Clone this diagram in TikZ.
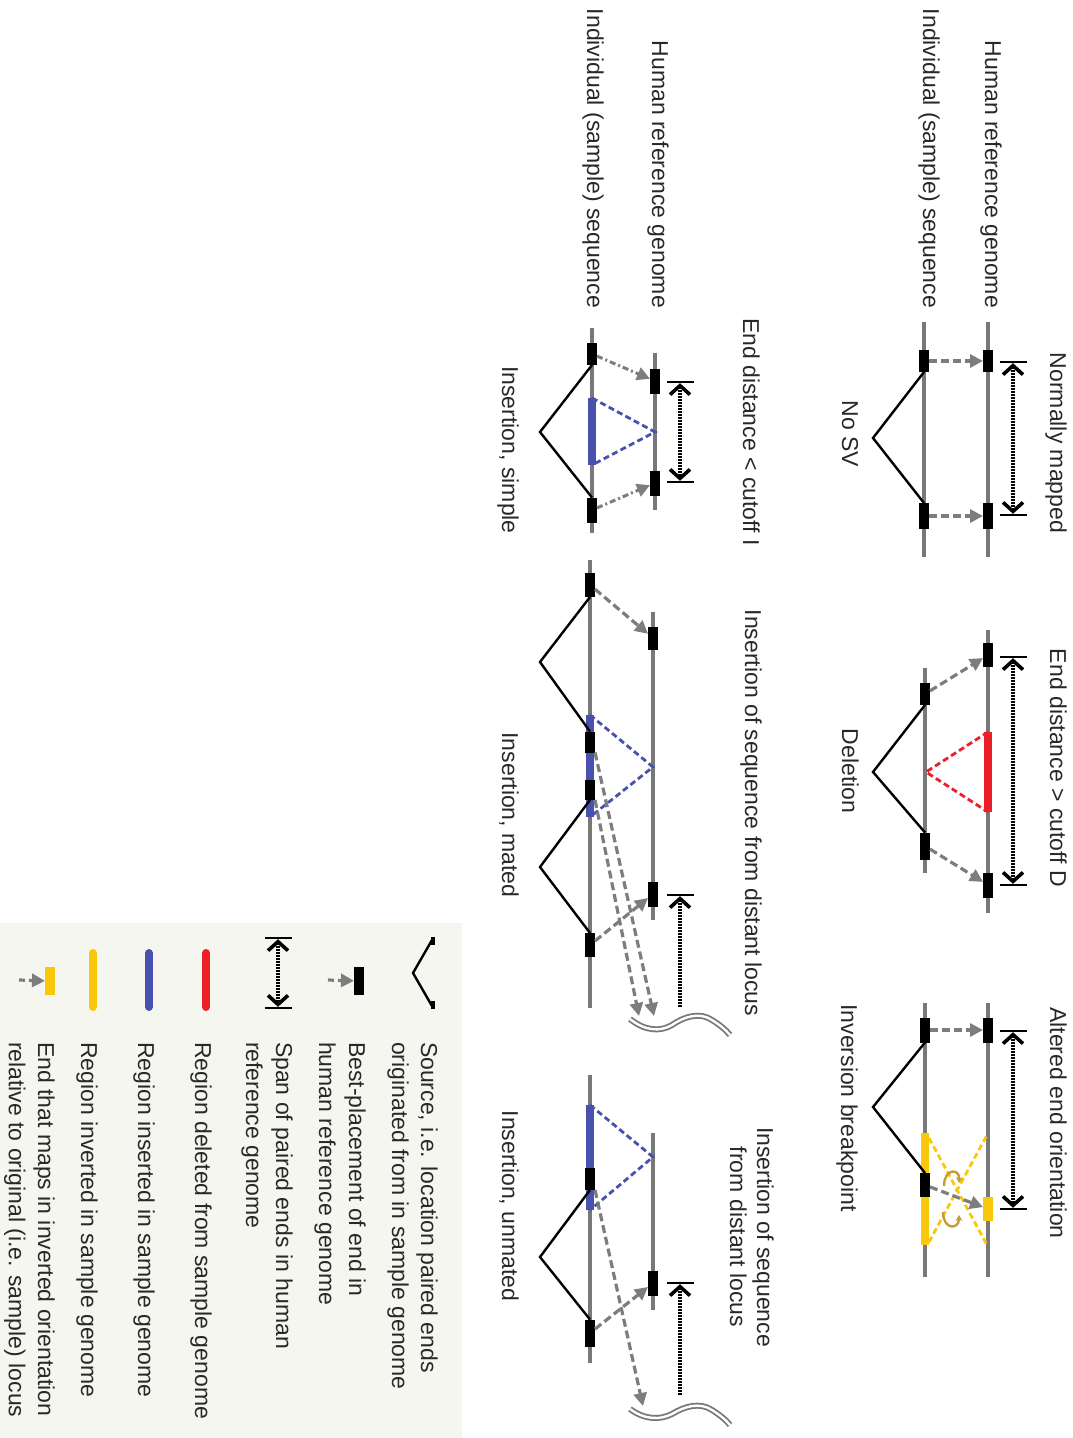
\documentclass[tikz,border=0pt]{standalone}
\usepackage{fontspec}
\setmainfont{Liberation Sans}
\usetikzlibrary{arrows.meta}
\definecolor{seqgray}{RGB}{120,120,120}
\definecolor{argray}{RGB}{125,125,125}
\definecolor{txtgray}{RGB}{40,40,40}
\definecolor{delred}{RGB}{236,30,40}
\definecolor{insblue}{RGB}{72,82,172}
\definecolor{invyellow}{RGB}{250,200,10}
\definecolor{curlgold}{RGB}{196,158,52}
\definecolor{legbg}{RGB}{246,246,240}
\begin{document}
\begin{tikzpicture}[x=1pt,y=-1pt,
  every node/.style={inner sep=0pt,outer sep=0pt},
  lbl/.style={rotate=-90,font=\fontsize{23}{28}\selectfont,text=txtgray},
  seq/.style={draw=seqgray,line width=3.2pt},
  blk/.style={rectangle,fill=black,minimum width=10pt},
  yblk/.style={rectangle,fill=invyellow,minimum width=10pt},
  pe/.style={draw=argray,line width=3.2pt,dash pattern=on 8pt off 4pt,-{Triangle[length=13pt,width=13pt]}},
  pedot/.style={draw=argray,line width=3pt,dash pattern=on 6pt off 3pt on 2pt off 3pt,-{Triangle[length=13pt,width=13pt]}},
  src/.style={draw=black,line width=2.4pt,line join=miter},
  region/.style={line width=8pt},
  tri/.style={line width=2.8pt,dash pattern=on 6pt off 3.5pt},
  spanbar/.style={rectangle,fill=black,minimum width=27pt,minimum height=2.4pt},
  barb/.style={Straight Barb[length=9pt,width=20pt,line width=3.6pt]},
  span/.style={draw=black,line width=4pt,dash pattern=on 1.8pt off 1.2pt,{Straight Barb[length=9pt,width=20pt,line width=3.6pt]}-{Straight Barb[length=9pt,width=20pt,line width=3.6pt]}},
  spanup/.style={draw=black,line width=4pt,dash pattern=on 1.8pt off 1.2pt,-{Straight Barb[length=9pt,width=20pt,line width=3.6pt]}},
  wave/.style={draw=seqgray,line width=1.8pt,double=white,double distance=2.4pt},
  curl/.style={draw=curlgold,line width=2.4pt,-{Stealth[length=6pt,width=7pt]}}
]
\useasboundingbox (0,0) rectangle (1072,1438);

% ---------- row labels ----------
\node[lbl,anchor=base east] (refA) at (985,308) {Human reference genome};
\node[lbl,anchor=base east] (smpA) at (923,308) {Individual (sample) sequence};
\node[lbl,anchor=base east] (refB) at (652,308) {Human reference genome};
\node[lbl,anchor=base east] (smpB) at (587,308) {Individual (sample) sequence};

% ================= Normally mapped =================
\draw[seq] (924,322) -- (924,557);
\draw[seq] (988,322) -- (988,557);
\node[blk,minimum height=22pt] (as1) at (924,361) {};
\node[blk,minimum height=22pt] (ar1) at (988,361) {};
\node[blk,minimum height=26pt] (as2) at (924,516) {};
\node[blk,minimum height=26pt] (ar2) at (988,516) {};
\draw[pe] (as1) -- (ar1);
\draw[pe] (as2) -- (ar2);
\draw[src] (as1.south) -- (873,438) -- (as2.north);
\node[spanbar] (at1) at (1013,362) {};
\node[spanbar] (at2) at (1013,515) {};
\draw[span] (at1) -- (at2);
\node[lbl,anchor=base] (tA) at (1050,443) {Normally mapped};
\node[lbl,anchor=base] (cA) at (842,434) {No SV};

% ================= Deletion =================
\draw[seq] (988,630) -- (988,913);
\draw[seq] (925,668) -- (925,873);
\draw[delred,region] (988,732) -- (988,812);
\draw[delred,tri] (988,732) -- (926,772) -- (988,812);
\node[blk,minimum height=24pt] (br1) at (988,655) {};
\node[blk,minimum height=25pt] (br2) at (988,885) {};
\node[blk,minimum height=22pt] (bs1) at (925,694) {};
\node[blk,minimum height=27pt] (bs2) at (925,846) {};
\draw[pe] (bs1) -- (br1);
\draw[pe] (bs2) -- (br2);
\draw[src] (bs1.south) -- (873,772) -- (bs2.north);
\node[spanbar] (bt1) at (1013,657) {};
\node[spanbar] (bt2) at (1013,885) {};
\draw[span] (bt1) -- (bt2);
\node[lbl,anchor=base] (tB) at (1050,768) {End distance > cutoff D};
\node[lbl,anchor=base] (cB) at (842,771) {Deletion};

% ================= Inversion =================
\draw[seq] (925,1003) -- (925,1277);
\draw[seq] (988,1003) -- (988,1277);
\draw[invyellow,region] (925,1133) -- (925,1245);
\draw[invyellow,tri] (929,1138) -- (987,1245);
\draw[invyellow,tri] (929,1242) -- (987,1135);
\node[blk,minimum height=25pt] (cs1) at (925,1030) {};
\node[blk,minimum height=25pt] (cr1) at (988,1030) {};
\node[blk,minimum height=24pt] (cs2) at (925,1185) {};
\node[yblk,minimum height=24pt] (cr2) at (988,1209) {};
\draw[pe] (cs1) -- (cr1);
\draw[pe] (cs2) -- (cr2);
\draw[curl] (944,1186) .. controls (944,1168) and (960,1168) .. (959,1183);
\draw[curl] (943,1212) .. controls (943,1230) and (959,1230) .. (959,1215);
\draw[src] (cs1.south) -- (873,1107) -- (cs2.north);
\node[spanbar] (ct1) at (1013,1031) {};
\node[spanbar] (ct2) at (1013,1209) {};
\draw[span] (ct1) -- (ct2);
\node[lbl,anchor=base] (tC) at (1050,1123) {Altered end orientation};
\node[lbl,anchor=base] (cC) at (841,1108) {Inversion breakpoint};

% ================= Insertion, simple =================
\draw[seq] (592,328) -- (592,533);
\draw[seq] (655,353) -- (655,510);
\draw[insblue,region] (592,398) -- (592,465);
\draw[insblue,tri] (592,398) -- (655,432) -- (592,465);
\node[blk,minimum height=22pt] (ds1) at (592,354) {};
\node[blk,minimum height=25pt] (ds2) at (592,510) {};
\node[blk,minimum height=25pt] (dr1) at (655,381) {};
\node[blk,minimum height=25pt] (dr2) at (655,483) {};
\draw[pedot] (ds1) -- (dr1);
\draw[pedot] (ds2) -- (dr2);
\draw[src] (ds1.south) -- (540,432) -- (ds2.north);
\node[spanbar] (dt1) at (680,382) {};
\node[spanbar] (dt2) at (680,482) {};
\draw[span] (dt1) -- (dt2);
\node[lbl,anchor=base] (tD) at (743,432) {End distance < cutoff I};
\node[lbl,anchor=base] (cD) at (502,450) {Insertion, simple};

% ================= Insertion, mated =================
\draw[seq] (590,560) -- (590,1008);
\draw[seq] (653,612) -- (653,920);
\draw[insblue,region] (590,715) -- (590,817);
\draw[insblue,tri] (590,715) -- (653,767) -- (590,817);
\node[blk,minimum height=24pt] (es1) at (590,585) {};
\node[blk,minimum height=21pt] (es2) at (590,742) {};
\node[blk,minimum height=20pt] (es3) at (590,790) {};
\node[blk,minimum height=24pt] (es4) at (590,945) {};
\node[blk,minimum height=23pt] (er1) at (653,638) {};
\node[blk,minimum height=25pt] (er2) at (653,894) {};
\coordinate (efar1) at (654,1016);
\coordinate (efar2) at (639,1016);
\draw[pe] (es1) -- (er1);
\draw[pe] (es4) -- (er2);
\draw[pe] (es2.south east) -- (efar1);
\draw[pe] (es3.south east) -- (efar2);
\draw[wave] (630,1019) .. controls (645,1031) and (660,1032) .. (672,1025)
  .. controls (685,1016) and (700,1012) .. (712,1020)
  .. controls (720,1025) and (726,1030) .. (730,1035);
\draw[src] (es1.south) -- (540,662) -- (es2.north);
\draw[src] (es3.south) -- (540,867) -- (es4.north);
\node[spanbar] (et1) at (680,895) {};
\coordinate (eend) at (680,1007);
\draw[spanup] (eend) -- (et1);
\node[lbl,anchor=base] (tE) at (745,813) {Insertion of sequence from distant locus};
\node[lbl,anchor=base] (cE) at (502,815) {Insertion, mated};

% ================= Insertion, unmated =================
\draw[seq] (590,1075) -- (590,1363);
\draw[seq] (653,1133) -- (653,1310);
\draw[insblue,region] (590,1105) -- (590,1210);
\draw[insblue,tri] (590,1105) -- (653,1157) -- (590,1210);
\node[blk,minimum height=22pt] (fs1) at (590,1179) {};
\node[blk,minimum height=27pt] (fs2) at (590,1333) {};
\node[blk,minimum height=25pt] (fr1) at (653,1283) {};
\coordinate (ffar) at (643,1406);
\draw[pe] (fs2) -- (fr1);
\draw[pe] (fs1.south east) -- (ffar);
\draw[wave] (630,1409) .. controls (645,1420) and (660,1420) .. (672,1414)
  .. controls (685,1406) and (700,1402) .. (712,1410)
  .. controls (720,1415) and (726,1420) .. (730,1425);
\draw[src] (fs1.south) -- (540,1257) -- (fs2.north);
\node[spanbar] (ft1) at (680,1283) {};
\coordinate (fend) at (680,1395);
\draw[spanup] (fend) -- (ft1);
\node[lbl,anchor=base] (tF1) at (757,1237) {Insertion of sequence};
\node[lbl,anchor=base] (tF2) at (730,1237) {from distant locus};
\node[lbl,anchor=base] (cF) at (502,1206) {Insertion, unmated};

% ================= Legend =================
\fill[legbg] (0,923) rectangle (462,1438);
% source
\draw[src] (432,940) -- (413,973) -- (432,1006);
\node[rectangle,fill=black,minimum width=4pt,minimum height=8pt] (lgv1) at (433,941) {};
\node[rectangle,fill=black,minimum width=4pt,minimum height=8pt] (lgv2) at (433,1005) {};
\node[lbl,anchor=base west] (lt1a) at (421,1042) {Source, i.e. location paired ends};
\node[lbl,anchor=base west] (lt1b) at (392,1042) {originated from in sample genome};
% best placement
\coordinate (lga) at (328,980);
\node[blk,minimum height=28pt] (lgb) at (359,981) {};
\draw[pe,dash pattern=on 6pt off 4pt] (lga) -- (lgb);
\node[lbl,anchor=base west] (lt2a) at (349,1042) {Best-placement of end in};
\node[lbl,anchor=base west] (lt2b) at (319,1042) {human reference genome};
% span
\node[spanbar] (lgs1) at (278,938) {};
\node[spanbar] (lgs2) at (278,1008) {};
\draw[span] (lgs1) -- (lgs2);
\node[lbl,anchor=base west] (lt3a) at (276,1042) {Span of paired ends in human};
\node[lbl,anchor=base west] (lt3b) at (246,1042) {reference genome};
% coloured regions
\draw[delred,line width=8pt,line cap=round] (206,953) -- (206,1007);
\node[lbl,anchor=base west] (lt4) at (195,1042) {Region deleted from sample genome};
\draw[insblue,line width=8pt,line cap=round] (149,953) -- (149,1007);
\node[lbl,anchor=base west] (lt5) at (138,1042) {Region inserted in sample genome};
\draw[invyellow,line width=8pt,line cap=round] (93,953) -- (93,1007);
\node[lbl,anchor=base west] (lt6) at (81,1042) {Region inverted in sample genome};
% inverted end
\coordinate (lgc) at (19,980);
\node[yblk,minimum height=28pt] (lgd) at (50,981) {};
\draw[pe,dash pattern=on 6pt off 4pt] (lgc) -- (lgd);
\node[lbl,anchor=base west] (lt7a) at (38,1042) {End that maps in inverted orientation};
\node[lbl,anchor=base west] (lt7b) at (9,1042) {relative to original (i.e. sample) locus};
\end{tikzpicture}
\end{document}
